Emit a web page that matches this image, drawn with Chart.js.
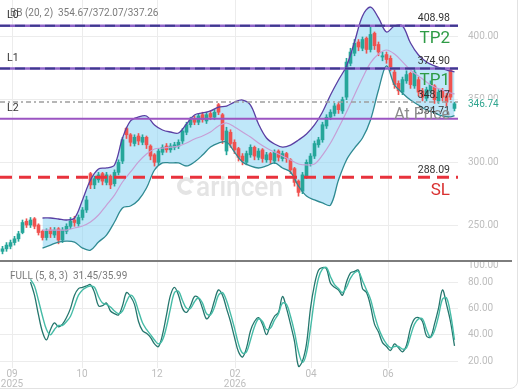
<!DOCTYPE html>
<html><head><meta charset="utf-8">
<script src="https://cdn.jsdelivr.net/npm/chart.js@4.4.1/dist/chart.umd.min.js"></script>
<style>
html,body{margin:0;padding:0;background:#fff;}
#wrap{position:relative;width:520px;height:390px;overflow:hidden;background:#fff;}
#top{position:absolute;left:0;top:0;}
#bot{position:absolute;left:0;top:262px;}
#frame{position:absolute;left:-10px;top:-10px;width:528px;height:399px;border:1px solid #e2e2e2;border-radius:8px;box-sizing:border-box;pointer-events:none}
</style></head>
<body><div id="wrap"><canvas id="top" width="520" height="262"></canvas><canvas id="bot" width="520" height="128"></canvas><div id="frame"></div></div>
<script>
// ---------- DATA ----------
const opens = [229,231,233,236,239,244,253,250,255,250, 245,240,246,242,247,238,245,249,254,251,
 256,262,291,282,286,291,284,289,283,292, 301,327,322,315,321,316,320,313,306,300,
 308,313,310,312,313,317,324,330,335,332, 338,333,339,336,346,338,309,324,316,311,
 305,300,306,312,304,310,302,307,301,309, 303,307,302,295,285,277,289,299,305,314,
 318,329,336,339,346,341,352,379,387,396, 391,399,390,403,394,384,386,383,372,363,
 356,365,371,361,366,357,351,357,361,349, 357,353,374,343];
const highs = [233,236,238,241,245,254,255,256,256,251, 246,247,248,248,248,248,251,256,257,258,
 264,273,292,289,292,292,292,290,294,302, 320,328,323,322,323,322,321,314,307,311,
 314,315,315,316,318,327,332,336,337,339, 340,340,341,342,347,339,328,326,318,312,
 307,309,314,313,311,311,308,308,310,310, 309,308,303,296,286,292,302,307,317,320,
 332,338,342,347,348,352,383,391,398,398, 400,400,408,404,396,388,388,385,374,365,
 368,373,372,375,368,359,360,365,362,358, 359,355,375,348];
const lows = [227,229,231,234,237,243,248,248,247,242, 238,238,240,240,235,236,243,247,249,249,
 254,260,279,279,284,282,282,279,281,290, 299,319,313,313,314,314,311,302,297,298,
 306,308,308,310,311,315,322,328,330,330, 332,331,334,334,338,315,306,312,307,301,
 298,298,304,302,302,300,300,299,299,301, 301,300,291,281,273,275,287,297,303,312,
 316,327,334,337,339,339,350,377,385,389, 389,387,388,390,385,381,379,373,359,354,
 354,363,359,359,353,349,349,355,347,347, 349,345,350,341];
const closes = [231,234,236,239,243,252,250,254,249,244, 240,245,243,246,238,246,249,253,252,256,
 262,270,282,287,290,285,290,282,292,300, 318,322,316,320,317,320,314,305,300,309,
 312,310,313,314,316,325,330,334,332,337, 334,338,336,340,340,318,325,315,310,304,
 301,307,312,305,309,303,306,302,308,304, 307,303,294,284,276,290,300,305,315,318,
 330,336,340,345,342,350,380,388,395,392, 398,390,402,393,388,385,382,376,362,357,
 366,370,362,372,356,352,358,362,350,356, 352,348,352,346.74];

const bbIndex = [10,12,14,16,18,20,22,24,26,28,30,32,34,36,38,40,42,44,46,48,50,52,54,56,58,60,
 62,64,66,68,70,72,74,76,78,80,82,84,86,88,90,92,94,96,98,100,102,104,106,108,110,112,113];
const bbUpper = [255.6,255.6,254.8,254.0,255.6,270.0,285.9,294.7,295.5,297.9,319.4,333.0,336.2,337.0,
 329.8,325.8,324.2,323.4,330.6,337.8,339.4,341.0,344.1,344.9,348.1,349.7,345.7,330.6,319.4,314.6,
 312.2,313.8,317.8,322.6,329.8,340.2,353.7,365.7,376.9,396.0,416.8,423.9,415.2,404.0,408.8,408.8,
 395.2,385.6,380.1,376.9,374.5,372.9,372.07];
const bbMiddle = [246.0,246.0,246.0,246.0,247.6,249.2,252.4,258.0,265.9,273.9,284.3,292.3,300.3,306.6,
 310.6,311.4,312.2,313.0,315.4,318.6,321.0,324.2,329.0,331.4,328.2,324.2,320.2,315.4,311.4,308.2,
 305.0,301.9,298.7,297.9,298.7,305.8,315.4,327.4,340.2,353.7,367.3,379.3,386.4,389.6,386.4,380.1,
 373.7,368.9,364.1,360.1,357.7,355.3,354.67];
const bbLower = [231.6,234.0,236.4,237.2,236.4,231.6,230.0,236.4,242.0,252.4,263.6,265.2,270.0,279.5,
 293.9,299.5,299.5,299.5,297.1,300.3,305.8,312.2,315.4,316.2,308.2,300.3,297.1,295.5,297.1,299.5,
 295.5,292.3,281.1,273.1,270.0,267.6,265.9,285.9,301.9,311.4,319.4,333.8,357.7,376.9,361.7,355.3,
 349.7,345.7,341.8,339.4,337.0,336.2,337.26];

const stochStart = 7;
const stochK = [80,70,55,42,36,44,49,46,48,53, 60,70,75,76,77,78,72,62,62,64, 58,56,55,62,72,69,63,50,43,41,
 38,33,31,40,55,70,76,70,60,57, 62,69,68,60,52,56,66,74,70,60, 50,38,27,23,30,43,50,53,48,40,
 48,54,57,69,60,48,35,16,20,33, 60,78,89,91,90,79,76,74,70,80, 87,88,89,75,72,62,48,42,34,31,
 28,33,30,27,32,45,52,53,50,39, 38,48,60,74,63,50,31.45];
const stochD = [82,77,66,54,44,40,44,47,47,50, 54,62,70,74,76,77,76,69,64,63, 61,58,56,58,65,70,67,58,49,44,
 40,36,33,36,46,60,72,73,66,60, 60,65,68,64,56,55,61,70,72,66, 56,45,33,26,27,36,46,52,50,44,
 45,51,56,64,63,54,42,27,19,26, 45,67,83,90,91,84,78,75,72,76, 83,87,88,81,74,67,55,45,38,33,
 30,31,31,29,30,39,48,52,52,44, 38,43,54,67,68,56,35.99];

const levelValues = [408.98, 374.90, 348.17, 334.71, 288.09];
const levelNames  = ['L0', 'L1', '', 'L2', ''];
const levelTags   = ['TP2', 'TP1', '', 'At Price', 'SL'];
const lastPrice = 346.74;

const priceTicks = [250, 300, 350, 400];
const stochTicks = [20, 40, 60, 80];
const dateTickPos = [2.375, 19.875, 38.625, 58.125, 77.125, 96.375];
const dateTickLabels = [['09','2025'], ['10'], ['12'], ['02','2026'], ['04'], ['06']];

// ---------- STYLE ----------
const FONT = 'Roboto, "Noto Sans", sans-serif';
Chart.defaults.font.family = FONT;
const UP = '#26a69a', DOWN = '#ef5350';
const GRID = '#ececec', TICK = '#bdbdbd';
const X_MIN = -0.625, X_MAX = 113.875;

const candleColors = closes.map((c, i) => c >= opens[i] ? UP : DOWN);

function xScale(showTicks) {
  return {
    type: 'linear', min: X_MIN, max: X_MAX, offset: false,
    afterBuildTicks: s => { s.ticks = dateTickPos.map(v => ({ value: v })); },
    ticks: { display: showTicks, callback: (v, i) => dateTickLabels[i], color: TICK,
             font: { size: 10, lineHeight: 1 }, padding: 1, maxRotation: 0, autoSkip: false },
    grid: { color: GRID, drawTicks: false, offset: false },
    border: { display: false },
    afterFit: s => { s.height = showTicks ? 22 : 0; s.paddingLeft = 0; s.paddingRight = 0; }
  };
}
function yScale(min, max, ticksArr) {
  return {
    position: 'right', min, max,
    afterBuildTicks: s => { s.ticks = ticksArr.map(v => ({ value: v })); },
    ticks: { callback: v => v.toFixed(2), color: TICK, font: { size: 10 }, padding: 10 },
    grid: { color: GRID, drawTicks: false }, border: { display: false },
    afterFit: s => { s.width = 62; s.paddingTop = 0; s.paddingBottom = 0; }
  };
}

const topOverlay = {
  id: 'topOverlay',
  beforeDatasetsDraw(chart) {
    const { ctx } = chart;
    ctx.save();
    ctx.strokeStyle = '#e4e4e4'; ctx.lineWidth = 4;
    ctx.beginPath(); ctx.arc(186, 186, 7, 0.25 * Math.PI, 1.85 * Math.PI); ctx.stroke();
    ctx.fillStyle = '#e4e4e4';
    ctx.font = '500 27px ' + FONT; ctx.textBaseline = 'alphabetic';
    const w = ctx.measureText('arincen').width;
    ctx.translate(196, 196); ctx.scale(87 / w, 1);
    ctx.fillText('arincen', 0, 0);
    ctx.restore();
  },
  afterDatasetsDraw(chart) {
    const { ctx, chartArea: a, scales: { y } } = chart;
    const line = (v) => { const yy = y.getPixelForValue(v); ctx.beginPath(); ctx.moveTo(a.left, yy); ctx.lineTo(a.right, yy); ctx.stroke(); };
    ctx.save();
    [0, 1].forEach(k => {
      ctx.setLineDash([]); ctx.strokeStyle = '#8e64c8'; ctx.lineWidth = 2.5; line(levelValues[k]);
      ctx.setLineDash([10, 5]); ctx.strokeStyle = '#3d3a8e'; ctx.lineWidth = 2; line(levelValues[k]);
    });
    ctx.setLineDash([5, 3, 2, 3]); ctx.strokeStyle = '#9e9e9e'; ctx.lineWidth = 1.6; line(levelValues[2]);
    ctx.setLineDash([]); ctx.strokeStyle = '#9b55c2'; ctx.lineWidth = 2; line(levelValues[3]);
    ctx.setLineDash([12, 7]); ctx.strokeStyle = '#e8323c'; ctx.lineWidth = 3; line(levelValues[4]);
    ctx.restore();
  },
  afterDraw(chart) {
    const { ctx, chartArea: a, scales: { y } } = chart;
    ctx.save();
    ctx.textBaseline = 'middle';
    // header
    ctx.font = '10px ' + FONT; ctx.fillStyle = '#7a7a7a'; ctx.textAlign = 'left';
    ctx.fillText('BB (20, 2)', 10, 13);
    const n = bbMiddle.length - 1;
    ctx.fillText(bbMiddle[n].toFixed(2) + '/' + bbUpper[n].toFixed(2) + '/' + bbLower[n].toFixed(2), 58, 13);
    levelValues.forEach((v, k) => {
      const yy = y.getPixelForValue(v);
      ctx.font = '10.5px ' + FONT; ctx.fillStyle = '#333';
      if (levelNames[k]) { ctx.textAlign = 'left'; ctx.fillText(levelNames[k], 7, yy - 10); }
      ctx.textAlign = 'right'; ctx.fillText(v.toFixed(2), 450, yy - 7);
    });
    // tags
    const tag = (t, v, dy, col, size) => {
      ctx.font = size + 'px ' + FONT; ctx.fillStyle = col; ctx.textAlign = 'right';
      ctx.fillText(t, 450, y.getPixelForValue(v) + dy);
    };
    tag(levelTags[0], levelValues[0], 13, '#2e9b45', 17);
    tag(levelTags[1], levelValues[1], 12, '#2e9b45', 17);
    tag(levelTags[3], levelValues[3], -4, '#8c8c8c', 16);
    tag(levelTags[4], levelValues[4], 13, '#d93030', 17);
    // last price label
    const ly = y.getPixelForValue(lastPrice);
    ctx.fillStyle = '#fff'; ctx.fillRect(a.right + 4, ly - 5, 50, 12);
    ctx.font = '10px ' + FONT; ctx.fillStyle = '#2fa58f'; ctx.textAlign = 'left';
    ctx.fillText(lastPrice.toFixed(2), a.right + 10, ly + 1);
    // separator
    ctx.fillStyle = '#7d7d7d'; ctx.fillRect(0, 260, 512, 2);
    ctx.restore();
  }
};

new Chart(document.getElementById('top'), {
  type: 'bar',
  data: {
    datasets: [
      { type: 'line', data: bbIndex.map((x, j) => ({ x, y: bbUpper[j] })), borderColor: '#5a3fa3', borderWidth: 1.3,
        pointRadius: 0, tension: 0.35, fill: '+2', backgroundColor: 'rgba(128,208,243,0.5)' },
      { type: 'line', data: bbIndex.map((x, j) => ({ x, y: bbMiddle[j] })), borderColor: '#c79fd6', borderWidth: 1.2,
        pointRadius: 0, tension: 0.35, fill: false },
      { type: 'line', data: bbIndex.map((x, j) => ({ x, y: bbLower[j] })), borderColor: '#2f8a92', borderWidth: 1.3,
        pointRadius: 0, tension: 0.35, fill: false },
      { type: 'bar', data: closes.map((c, i) => ({ x: i, y: [lows[i], highs[i]] })), backgroundColor: candleColors,
        barThickness: 1, grouped: false },
      { type: 'bar', data: closes.map((c, i) => ({ x: i, y: [opens[i], c] })), backgroundColor: candleColors,
        barThickness: 3, grouped: false, minBarLength: 1 }
    ]
  },
  options: {
    responsive: false, animation: false, events: [],
    layout: { padding: 0 },
    plugins: { legend: { display: false }, tooltip: { enabled: false }, filler: { drawTime: 'beforeDatasetsDraw' } },
    scales: { x: xScale(false), y: yScale(220.5, 429.5, priceTicks) }
  },
  plugins: [topOverlay]
});

const botOverlay = {
  id: 'botOverlay',
  afterDraw(chart) {
    const { ctx, chartArea: a } = chart;
    ctx.save();
    ctx.textBaseline = 'middle';
    ctx.font = '10px ' + FONT; ctx.fillStyle = '#7a7a7a'; ctx.textAlign = 'left';
    ctx.fillText('FULL (5, 8, 3)', 10, 14);
    ctx.fillText(stochK[stochK.length - 1].toFixed(2) + '/' + stochD[stochD.length - 1].toFixed(2), 73, 14);
    ctx.font = '10px ' + FONT; ctx.fillStyle = TICK;
    ctx.fillText((100).toFixed(2), a.right + 10, 3);
    ctx.restore();
  }
};

new Chart(document.getElementById('bot'), {
  type: 'line',
  data: {
    datasets: [
      { data: stochD.map((v, j) => ({ x: stochStart + j, y: v })), borderColor: '#45bba6', borderWidth: 1.4, pointRadius: 0, tension: 0.35 },
      { data: stochK.map((v, j) => ({ x: stochStart + j, y: v })), borderColor: '#25766d', borderWidth: 1.3, pointRadius: 0, tension: 0.35 }
    ]
  },
  options: {
    responsive: false, animation: false, events: [],
    layout: { padding: 0 },
    plugins: { legend: { display: false }, tooltip: { enabled: false } },
    scales: { x: xScale(true), y: yScale(14.7, 95.2, stochTicks) }
  },
  plugins: [botOverlay]
});
</script>
</body></html>
